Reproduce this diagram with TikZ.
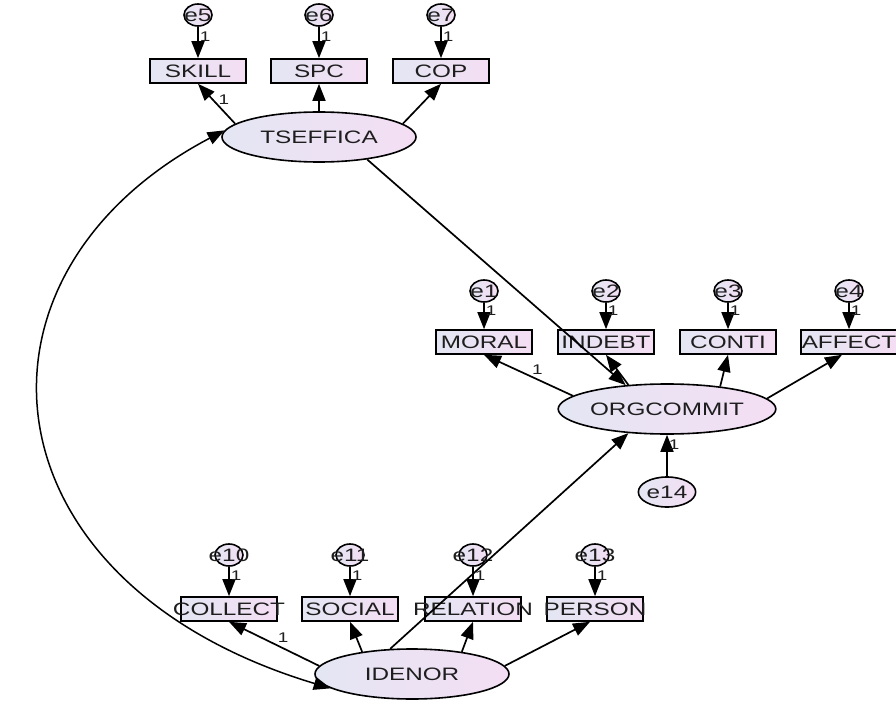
\documentclass[tikz,border=0pt]{standalone}
\usepackage{fontspec}
\newfontfamily\amos{Liberation Sans}[FakeStretch=1.35]
\usetikzlibrary{arrows.meta,shapes.geometric}
\definecolor{fillL}{RGB}{228,230,243}
\definecolor{fillR}{RGB}{244,222,244}
\definecolor{ink}{RGB}{30,30,30}
\newcommand{\wide}[1]{\makebox[0pt]{#1}}

\begin{document}
\begin{tikzpicture}[x=1pt, y=-1pt,
    latent/.style={ellipse, draw=black, line width=1.6pt, left color=fillL, right color=fillR,
        minimum width=194pt, minimum height=50pt, inner sep=0pt, text=ink,
        font=\amos\fontsize{18}{20}\selectfont},
    observed/.style={rectangle, draw=black, line width=1.6pt, left color=fillL, right color=fillR,
        minimum width=96pt, minimum height=24pt, inner sep=0pt, text=ink,
        font=\amos\fontsize{18}{20}\selectfont},
    error/.style={ellipse, draw=black, line width=1.6pt, left color=fillL, right color=fillR,
        minimum width=28pt, minimum height=22pt, inner sep=0pt, text=ink,
        font=\amos\fontsize{18}{20}\selectfont},
    load/.style={line width=1.7pt, -{Triangle[length=17pt,width=13pt]}},
    cov/.style={line width=1.5pt, {Triangle[length=17pt,width=13pt]}-{Triangle[length=17pt,width=13pt]}},
    one/.style={font=\amos\fontsize{14}{15}\selectfont, text=ink, inner sep=1pt}
]
    \useasboundingbox (0,0) rectangle (896,703);

    % latent variables
    \node[latent] (tseffica) at (319,137) {TSEFFICA};
    \node[latent] (orgcommit) at (667,409) {ORGCOMMIT};
    \node[latent] (idenor) at (412,674) {IDENOR};

    % indicators
    \node[observed] (skill) at (198,71) {\wide{SKILL}};
    \node[observed] (spc) at (319,71) {\wide{SPC}};
    \node[observed] (cop) at (441,71) {\wide{COP}};
    \node[observed] (moral) at (484,342) {\wide{MORAL}};
    \node[observed] (indebt) at (606,342) {\wide{INDEBT}};
    \node[observed] (conti) at (728,342) {\wide{CONTI}};
    \node[observed] (affect) at (849,342) {\wide{AFFECT}};
    \node[observed] (collect) at (229,609) {\wide{COLLECT}};
    \node[observed] (social) at (350,609) {\wide{SOCIAL}};
    \node[observed] (relation) at (473,609) {\wide{RELATION}};
    \node[observed] (person) at (595,609) {\wide{PERSON}};

    % errors
    \node[error] (e5) at (198,15) {\wide{e5}};
    \node[error] (e6) at (319,15) {\wide{e6}};
    \node[error] (e7) at (441,15) {\wide{e7}};
    \node[error] (e1) at (484,291) {\wide{e1}};
    \node[error] (e2) at (606,291) {\wide{e2}};
    \node[error] (e3) at (728,291) {\wide{e3}};
    \node[error] (e4) at (849,291) {\wide{e4}};
    \node[error] (e10) at (229,555) {\wide{e10}};
    \node[error] (e11) at (350,555) {\wide{e11}};
    \node[error] (e12) at (473,555) {\wide{e12}};
    \node[error] (e13) at (595,555) {\wide{e13}};
    \node[error, minimum width=56pt, minimum height=30pt] (e14) at (667,492) {e14};

    % error paths
    \draw[load] (e5) -- node[one, right, pos=0.3] {1} (skill);
    \draw[load] (e6) -- node[one, right, pos=0.3] {1} (spc);
    \draw[load] (e7) -- node[one, right, pos=0.3] {1} (cop);
    \draw[load] (e1) -- node[one, right, pos=0.3] {1} (moral);
    \draw[load] (e2) -- node[one, right, pos=0.3] {1} (indebt);
    \draw[load] (e3) -- node[one, right, pos=0.3] {1} (conti);
    \draw[load] (e4) -- node[one, right, pos=0.3] {1} (affect);
    \draw[load] (e10) -- node[one, right, pos=0.3] {1} (collect);
    \draw[load] (e11) -- node[one, right, pos=0.3] {1} (social);
    \draw[load] (e12) -- node[one, right, pos=0.3] {1} (relation);
    \draw[load] (e13) -- node[one, right, pos=0.3] {1} (person);
    \draw[load] (e14) -- node[one, right, pos=0.75] {1} (orgcommit);

    % loadings
    \draw[load] (tseffica.171) -- node[one, pos=0.6, right=4pt] {1} (skill.south);
    \draw[load] (tseffica.north) -- (spc.south);
    \draw[load] (tseffica.9) -- (cop.south);
    \draw[load] (orgcommit.172) -- node[one, pos=0.4, above=3pt] {1} (moral.south);
    \draw[load] (orgcommit.148) -- (indebt.south);
    \draw[load] (orgcommit.23) -- (conti.south);
    \draw[load] (orgcommit.6) -- ([xshift=-7pt]affect.south);
    \draw[load] (idenor.175) -- node[one, pos=0.4, above=4pt] {1} (collect.south);
    \draw[load] (idenor.156) -- (social.south);
    \draw[load] (idenor.24) -- (relation.south);
    \draw[load] (idenor.5) -- ([xshift=-5pt]person.south);

    % structural paths
    \draw[load] (tseffica.-25) -- (orgcommit.150);
    \draw[load] (idenor.131) -- (orgcommit.-148);
    \draw[cov] (tseffica.176) .. controls (-50,275) and (-20,583) .. (idenor.190);
\end{tikzpicture}
\end{document}
